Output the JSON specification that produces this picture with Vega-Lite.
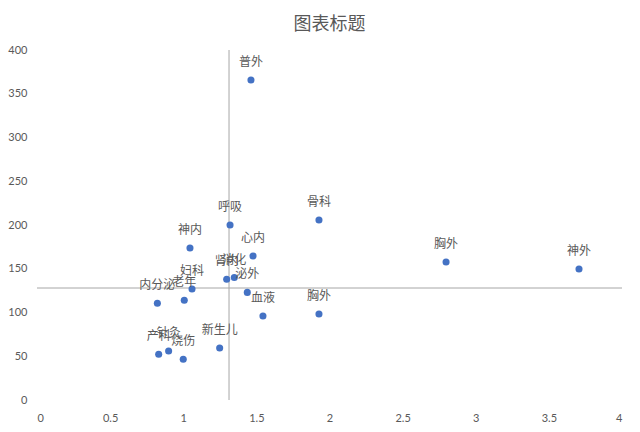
{
  "$schema": "https://vega.github.io/schema/vega-lite/v6.json",
  "width": 585,
  "height": 350,
  "autosize": "none",
  "padding": {"left": 37, "top": 50, "right": 18, "bottom": 32},
  "background": "white",
  "title": {"text": "图表标题", "fontSize": 18, "font": "Noto Sans CJK SC", "fontWeight": "normal", "color": "#595959", "offset": 10},
  "config": {
    "view": {"stroke": null},
    "axis": {"grid": false, "domain": false, "ticks": false, "title": null, "labelFont": "Lato", "labelFontSize": 11, "labelColor": "#595959", "labelPadding": 10}
  },
  "datasets": {
    "pts": [
      {"name": "普外", "x": 1.463, "y": 365.7},
      {"name": "骨科", "x": 1.928, "y": 205.7},
      {"name": "呼吸", "x": 1.32, "y": 200},
      {"name": "神内", "x": 1.046, "y": 173.7},
      {"name": "心内", "x": 1.477, "y": 164.6},
      {"name": "胸外", "x": 2.797, "y": 157.7},
      {"name": "神外", "x": 3.706, "y": 149.7},
      {"name": "肾内", "x": 1.297, "y": 138},
      {"name": "消化", "x": 1.349, "y": 140},
      {"name": "泌外", "x": 1.438, "y": 123},
      {"name": "血液", "x": 1.545, "y": 96},
      {"name": "胸外", "x": 1.928, "y": 98.3},
      {"name": "妇科", "x": 1.06, "y": 126.9},
      {"name": "老年", "x": 1.007, "y": 114},
      {"name": "内分泌", "x": 0.823, "y": 110.5},
      {"name": "新生儿", "x": 1.249, "y": 59.4},
      {"name": "产科", "x": 0.832, "y": 52.2},
      {"name": "针灸", "x": 0.9, "y": 56},
      {"name": "烧伤", "x": 1.0, "y": 46.5}
    ],
    "refs": [
      {"x": 1.313, "x2": 1.313, "y": 0, "y2": 400},
      {"x": 0, "x2": 4, "y": 128, "y2": 128}
    ]
  },
  "layer": [
    {
      "data": {"name": "refs"},
      "mark": {"type": "rule", "color": "#A6A6A6", "strokeWidth": 1},
      "encoding": {
        "x": {"field": "x", "type": "quantitative", "scale": {"domain": [0, 4], "nice": false}, "axis": {"values": [0, 0.5, 1, 1.5, 2, 2.5, 3, 3.5, 4], "labelExpr": "'' + datum.value", "labelPadding": 12}},
        "x2": {"field": "x2"},
        "y": {"field": "y", "type": "quantitative", "scale": {"domain": [0, 400], "nice": false}, "axis": {"values": [0, 50, 100, 150, 200, 250, 300, 350, 400]}},
        "y2": {"field": "y2"}
      }
    },
    {
      "data": {"name": "pts"},
      "mark": {"type": "circle", "size": 50, "color": "#4472C4", "opacity": 1},
      "encoding": {
        "x": {"field": "x", "type": "quantitative"},
        "y": {"field": "y", "type": "quantitative"}
      }
    },
    {
      "data": {"name": "pts"},
      "mark": {"type": "text", "dy": -18, "fontSize": 12, "font": "Noto Sans CJK SC", "color": "#595959"},
      "encoding": {
        "x": {"field": "x", "type": "quantitative"},
        "y": {"field": "y", "type": "quantitative"},
        "text": {"field": "name"}
      }
    }
  ]
}
